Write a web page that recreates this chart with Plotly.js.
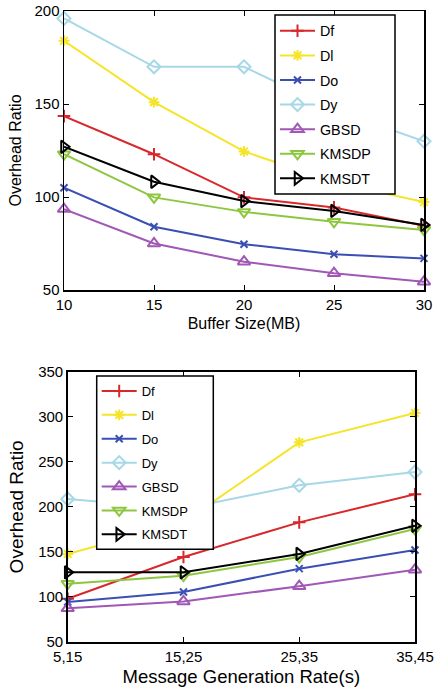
<!DOCTYPE html>
<html>
<head>
<meta charset="utf-8">
<script src="https://cdn.plot.ly/plotly-3.0.1.min.js"></script>
<style>html,body{margin:0;padding:0;background:#fff;}#chart{width:434px;height:692px;}</style>
</head>
<body>
<div id="chart"></div>
<script>
// ---- Data ----
const seriesNames = ["Df", "Dl", "Do", "Dy", "GBSD", "KMSDP", "KMSDT"];

// Top chart: Buffer Size (MB)
const bufferSizes = [10, 15, 20, 25, 30];
const bufDf    = [143.5, 123, 99.8, 94.4, 84.5];
const bufDl    = [184, 151, 124.5, 108, 97.3];
const bufDo    = [105, 84, 74.6, 69.2, 67];
const bufDy    = [196, 170, 170, 147, 130];
const bufGBSD  = [93.5, 75, 65.2, 59, 54.5];
const bufKMSDP = [123, 99.8, 92, 86.7, 82.3];
const bufKMSDT = [127, 108.2, 97.8, 92.5, 85];

// Bottom chart: Message Generation Rate (s)
const rateLabels = ["5,15", "15,25", "25,35", "35,45"];
const rateDf    = [98, 144.3, 182.8, 213.9];
const rateDl    = [147.7, 183, 271.6, 304.2];
const rateDo    = [94.4, 105.5, 131.4, 152.1];
const rateDy    = [208.7, 198, 223.9, 238.7];
const rateGBSD  = [87.4, 95, 112, 130.3];
const rateKMSDP = [114.7, 123.6, 144.3, 175.4];
const rateKMSDT = [127.3, 127.3, 147.7, 179];

const yTicksTop = [50, 100, 150, 200];
const yTicksBottom = [50, 100, 150, 200, 250, 300, 350];

// ---- Styles ----
const colors  = ["#d8282c", "#f5e52a", "#3a4fb2", "#a6d8e6", "#a058b4", "#8dc63f", "#000000"];
const symbols = ["cross-thin-open", "asterisk-open", "x-thin-open", "diamond-open", "triangle-up-open", "triangle-down-open", "triangle-right-open"];
const msizes  = [9, 9, 7, 10, 11, 11, 11];

const topData = [bufDf, bufDl, bufDo, bufDy, bufGBSD, bufKMSDP, bufKMSDT];
const botData = [rateDf, rateDl, rateDo, rateDy, rateGBSD, rateKMSDP, rateKMSDT];

const traces = [];
seriesNames.forEach((n, i) => {
  traces.push({
    x: bufferSizes, y: topData[i], name: n, type: "scatter", mode: "lines+markers",
    xaxis: "x", yaxis: "y", legend: "legend", legendgroup: "t" + i,
    line: {color: colors[i], width: 2},
    marker: {symbol: symbols[i], size: msizes[i], color: colors[i], line: {color: colors[i], width: 2}},
    cliponaxis: false
  });
});
seriesNames.forEach((n, i) => {
  traces.push({
    x: rateLabels, y: botData[i], name: n, type: "scatter", mode: "lines+markers",
    xaxis: "x2", yaxis: "y2", legend: "legend2", legendgroup: "b" + i,
    line: {color: colors[i], width: 2},
    marker: {symbol: symbols[i], size: msizes[i], color: colors[i], line: {color: colors[i], width: 2}},
    cliponaxis: false
  });
});

const W = 434, H = 692;
const font = "Liberation Sans, Arial, sans-serif";
const axCommon = {
  showline: true, linecolor: "#000", linewidth: 1.5, mirror: "ticks",
  ticks: "inside", ticklen: 5, tickcolor: "#000", tickwidth: 1,
  showgrid: false, zeroline: false,
  tickfont: {family: font, size: 15, color: "#000"}
};

// legend frames (px boxes)
const topBox = {l: 275, r: 395, t: 15, b: 194};
const botBox = {l: 96.7, r: 213.3, t: 376, b: 549.3};
function frame(b) {
  return {type: "rect", xref: "paper", yref: "paper", layer: "above",
    x0: b.l / W, x1: b.r / W, y0: 1 - b.b / H, y1: 1 - b.t / H,
    fillcolor: "#fff", line: {color: "#000", width: 1.5}};
}

const layout = {
  width: W, height: H,
  margin: {l: 0, r: 0, t: 0, b: 0},
  paper_bgcolor: "#fff", plot_bgcolor: "#fff",
  font: {family: font, color: "#000"},
  xaxis: Object.assign({}, axCommon, {
    domain: [64 / W, 424 / W], anchor: "y", range: [10, 30], tickvals: bufferSizes,
    title: {text: "Buffer Size(MB)", font: {family: font, size: 16, color: "#000"}, standoff: 6}
  }),
  yaxis: Object.assign({}, axCommon, {
    domain: [1 - 290 / H, 1 - 11 / H], anchor: "x", range: [50, 200], tickvals: yTicksTop,
    title: {text: "Overhead Ratio", font: {family: font, size: 16, color: "#000"}, standoff: 9}
  }),
  xaxis2: Object.assign({}, axCommon, {
    domain: [67.7 / W, 415 / W], anchor: "y2", type: "category", range: [0, 3],
    title: {text: "Message Generation Rate(s)", font: {family: font, size: 18.5, color: "#000"}, standoff: 6}
  }),
  yaxis2: Object.assign({}, axCommon, {
    domain: [1 - 642 / H, 1 - 371.7 / H], anchor: "x2", range: [50, 350], tickvals: yTicksBottom,
    title: {text: "Overhead Ratio", font: {family: font, size: 19, color: "#000"}, standoff: 9}
  }),
  shapes: [frame(topBox), frame(botBox)],
  legend: {
    x: topBox.l / W, y: 1 - topBox.t / H, xanchor: "left", yanchor: "top",
    bgcolor: "rgba(0,0,0,0)", borderwidth: 0,
    font: {family: font, size: 14.3, color: "#000"},
    traceorder: "grouped", tracegroupgap: 3, itemwidth: 35
  },
  legend2: {
    x: botBox.l / W, y: 1 - botBox.t / H, xanchor: "left", yanchor: "top",
    bgcolor: "rgba(0,0,0,0)", borderwidth: 0,
    font: {family: font, size: 13, color: "#000"},
    traceorder: "grouped", tracegroupgap: 4, itemwidth: 35
  },
  showlegend: true
};

Plotly.newPlot("chart", traces, layout, {staticPlot: true, displayModeBar: false});
</script>
</body>
</html>
